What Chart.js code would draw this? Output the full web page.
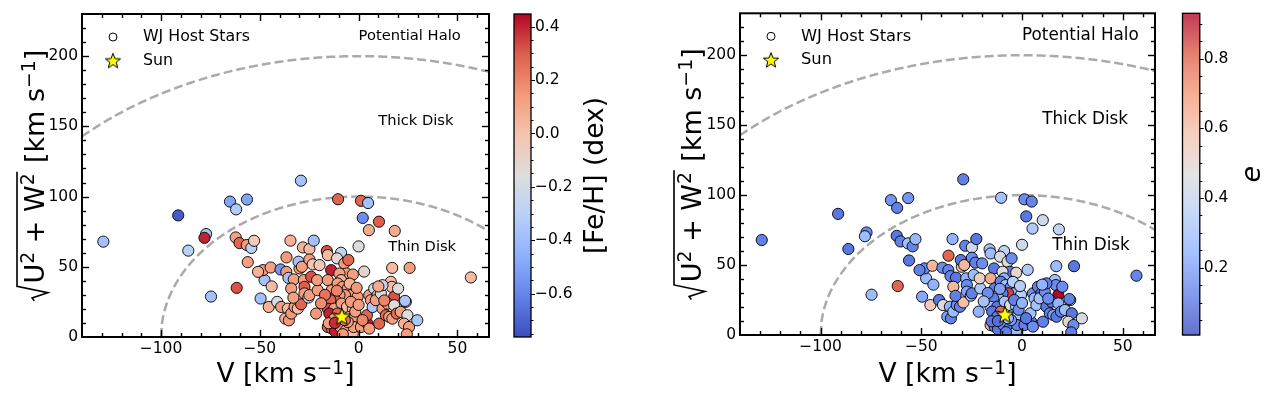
<!DOCTYPE html>
<html>
<head>
<meta charset="utf-8">
<script src="https://cdn.jsdelivr.net/npm/chart.js@4.4.1/dist/chart.umd.min.js"></script>
<style>
  html, body { margin: 0; padding: 0; background: #fff; }
  #wrap { position: relative; width: 1273px; height: 395px; }
  canvas { position: absolute; top: 0; }
</style>
</head>
<body>
<div id="wrap">
  <canvas id="leftChart" width="636" height="395" style="left:0"></canvas>
  <canvas id="rightChart" width="637" height="395" style="left:636px"></canvas>
</div>
<script>
// V velocity and sqrt(U^2+W^2) of each WJ host star (km/s)
const vVel = [
  -129.2, -91.3, -65.1, -62.0, -56.5, -29.2, -10.4, 1.2, 4.8, 2.1,
  10.3, 5.2, 18.3, -77.2, -78.0, -86.2, -74.7, -61.7, 56.8, 0.0,
  2.8, 17.0, 25.8, -62.2, -60.3, -56.6, -54.3, -52.9, -56.1,
  -49.6, -47.6, -48.4, -50.9, -44.5, -45.5, -41.2, -39.5, -36.6, -36.5,
  -34.5, -35.5, -32.8, -34.1, -39.2, -35.8, -37.1, -35.3, -34.1, -32.4,
  -30.8, -29.9, -30.4, -28.7, -28.2, -27.7, -27.4, -27.4, -29.1, -24.9,
  -22.7, -24.9, -24.0, -23.2, -25.4, -24.9, -20.7, -21.0, -21.5, -19.8,
  -16.1, -15.6, -13.9, -15.6, -13.6, -13.1, -8.9, -10.9, -7.2, -5.2,
  -6.1, -2.9, -9.7, -8.9, -10.6, -8.1, -5.5, -3.9, -0.5, -6.9,
  -9.7, -11.4, -14.3, -15.6, -12.3, -8.6, -5.9, -2.9, -3.9, -14.8,
  -10.6, -4.7, -2.2, -15.6, -13.6, -11.9, -9.2, -6.4, -3.0, -2.5,
  -5.5, -12.3, -4.5, -15.1, -1.7, 0.0,
  1.2, 4.5, 5.4, 4.2, 5.4, 6.2, 7.9, 7.1, 9.6, 8.7,
  11.3, 10.4, 12.1, 13.8, 15.5, 17.1, 16.3, 16.8, 18.0, 14.6,
  18.0, 20.0, 19.3, 21.3, 23.9, 23.5, 24.7, 23.0, 25.5, 24.4,
  29.7, 12.1,
  -11.0, -7.0, -12.0, -1.0, -17.0, -8.0, 2.0, -19.0, 10.0, 13.0,
  -33.0, -44.0
];
const uwVel = [
  67.9, 86.6, 96.4, 90.9, 97.9, 111.3, 98.1, 97.0, 95.4, 84.8,
  82.1, 76.1, 75.5, 73.3, 70.6, 61.5, 28.8, 35.0, 42.4, 64.5,
  46.6, 49.2, 49.2, 70.9, 66.9, 65.5, 63.4, 68.5, 53.3,
  27.4, 40.5, 47.6, 46.4, 49.5, 21.4, 25.0, 48.1, 46.4, 56.7,
  68.6, 42.1, 41.0, 34.5, 21.4, 20.2, 13.1, 11.9, 16.7, 21.4,
  20.2, 48.8, 53.6, 50.0, 63.8, 40.5, 35.7, 31.0, 23.3, 62.6,
  68.6, 55.2, 42.9, 51.7, 28.1, 29.8, 33.3, 40.5, 16.7, 51.2,
  61.2, 58.3, 47.6, 40.5, 33.3, 27.4, 60.0, 56.0, 52.4, 54.8,
  45.2, 44.5, 45.2, 40.5, 38.1, 35.7, 34.5, 29.8, 28.6, 29.8,
  29.8, 25.7, 26.2, 20.2, 20.2, 23.8, 21.4, 20.2, 25.0, 16.7,
  16.7, 14.3, 14.3, 7.1, 6.0, 4.0, 7.1, 4.8, 2.4, 7.1,
  10.7, 13.1, 38.0, 9.8, 18.1, 22.9,
  7.1, 9.5, 6.0, 15.5, 29.8, 26.2, 34.5, 21.4, 29.8, 26.2,
  31.0, 9.5, 20.2, 15.5, 14.3, 13.1, 39.3, 35.7, 28.6, 23.8,
  22.6, 34.5, 16.7, 17.9, 25.0, 25.7, 15.5, 9.5, 7.1, 1.9,
  11.9, 36.9,
  33.0, 12.0, 10.0, 35.0, 30.0, 2.0, 12.0, 24.0, 36.0, 26.0,
  28.0, 36.0
];
// metallicity [Fe/H] (dex)
const feh = [
  -0.38, -0.72, -0.50, -0.33, -0.50, -0.37, 0.28, 0.28, -0.38, -0.58,
  0.30, 0.08, 0.08, -0.35, 0.40, -0.30, -0.38, 0.32, 0.03, -0.15,
  -0.10, 0.03, 0.13, 0.12, 0.28, 0.14, -0.30, -0.05, 0.12,
  -0.38, -0.38, 0.15, 0.06, 0.12, 0.06, -0.18, -0.55, 0.15, 0.15,
  0.06, -0.38, 0.13, 0.13, 0.13, 0.03, 0.06, 0.15, 0.15, 0.13,
  0.03, 0.15, -0.38, 0.13, 0.06, 0.13, 0.30, 0.13, 0.28, 0.03,
  -0.38, 0.13, 0.32, -0.02, -0.25, 0.13, 0.13, 0.13, 0.15, -0.03,
  0.32, 0.03, 0.40, 0.13, 0.13, 0.28, -0.25, -0.12, 0.13, 0.28,
  0.13, 0.13, 0.13, 0.06, 0.13, 0.13, 0.13, 0.13, 0.13, 0.15,
  0.13, 0.28, 0.28, 0.32, 0.13, 0.13, 0.03, -0.05, 0.13, 0.40,
  0.28, 0.13, 0.13, 0.28, 0.28, 0.40, 0.13, 0.13, 0.03, 0.13,
  0.13, 0.13, 0.06, 0.13, 0.13, 0.13,
  0.13, 0.40, 0.13, 0.28, 0.13, 0.13, -0.22, -0.35, 0.06, 0.13,
  -0.15, 0.28, 0.13, 0.28, 0.13, 0.13, 0.03, 0.03, 0.32, 0.13,
  -0.15, -0.15, 0.28, 0.13, -0.02, -0.35, -0.15, 0.06, 0.13, 0.13,
  -0.35, -0.25,
  0.20, 0.25, 0.38, 0.15, 0.25, 0.15, 0.20, 0.18, 0.08, 0.20,
  0.12, 0.03
];
// orbital eccentricity e
const ecc = [
  0.12, 0.10, 0.17, 0.12, 0.17, 0.12, 0.30, 0.15, 0.13, 0.10,
  0.42, 0.33, 0.38, 0.14, 0.28, 0.10, 0.28, 0.80, 0.13, 0.42,
  0.33, 0.28, 0.10, 0.10, 0.12, 0.30, 0.13, 0.27, 0.10,
  0.22, 0.28, 0.15, 0.12, 0.62, 0.55, 0.10, 0.15, 0.13, 0.80,
  0.25, 0.12, 0.10, 0.62, 0.48, 0.25, 0.20, 0.12, 0.28, 0.15,
  0.12, 0.60, 0.10, 0.62, 0.12, 0.25, 0.15, 0.20, 0.60, 0.42,
  0.10, 0.15, 0.28, 0.12, 0.30, 0.12, 0.32, 0.53, 0.25, 0.15,
  0.30, 0.28, 0.10, 0.65, 0.12, 0.50, 0.38, 0.45, 0.48, 0.15,
  0.10, 0.50, 0.48, 0.25, 0.12, 0.30, 0.15, 0.25, 0.35, 0.85,
  0.12, 0.30, 0.12, 0.28, 0.10, 0.30, 0.48, 0.38, 0.12, 0.10,
  0.80, 0.15, 0.30, 0.65, 0.12, 0.10, 0.15, 0.10, 0.28, 0.12,
  0.20, 0.12, 0.35, 0.10, 0.15, 0.25,
  0.12, 0.10, 0.15, 0.30, 0.15, 0.28, 0.12, 0.30, 0.10, 0.30,
  0.15, 0.12, 0.10, 0.12, 0.20, 0.10, 0.30, 0.15, 0.93, 0.12,
  0.25, 0.15, 0.12, 0.28, 0.35, 0.12, 0.10, 0.50, 0.15, 0.12,
  0.45, 0.12,
  0.20, 0.28, 0.08, 0.35, 0.15, 0.12, 0.10, 0.30, 0.25, 0.15,
  0.12, 0.25
];
const sunPos = [-8.5, 14.7];
const xTicks = [-100, -50, 0, 50];
const yTicks = [0, 50, 100, 150, 200];
const fehTicks = [-0.6, -0.4, -0.2, 0.0, 0.2, 0.4];
const eccTicks = [0.2, 0.4, 0.6, 0.8];
const diskRadii = [100, 200]; // thin / thick disk boundaries (km/s)

const FONT = '"DejaVu Sans"';
const minus = s => String(s).replace('-', '\u2212');

// matplotlib coolwarm
const cwStops = [[59,76,192],[98,130,234],[141,176,254],[184,208,249],[221,221,221],
                 [245,196,173],[244,154,123],[222,96,77],[180,4,38]];
function coolwarm(t) {
  t = Math.max(0, Math.min(1, t));
  const p = t * (cwStops.length - 1);
  const i = Math.min(Math.floor(p), cwStops.length - 2);
  const f = p - i;
  const c = cwStops[i].map((v, k) => Math.round(v + (cwStops[i + 1][k] - v) * f));
  return `rgb(${c[0]},${c[1]},${c[2]})`;
}

function starPath(ctx, cx, cy, ro, ri) {
  ctx.beginPath();
  for (let k = 0; k < 10; k++) {
    const r = k % 2 ? ri : ro;
    const a = -Math.PI / 2 + k * Math.PI / 5;
    const x = cx + r * Math.cos(a), y = cy + r * Math.sin(a);
    k ? ctx.lineTo(x, y) : ctx.moveTo(x, y);
  }
  ctx.closePath();
}
function makeStar(size) {
  const c = document.createElement('canvas');
  c.width = size; c.height = size;
  const g = c.getContext('2d');
  starPath(g, size / 2, size / 2 + 0.8, size / 2 - 1, (size / 2 - 1) * 0.42);
  g.fillStyle = '#ffff00'; g.fill();
  g.strokeStyle = '#000'; g.lineWidth = 1; g.stroke();
  return c;
}
const sunImg = makeStar(20);
const sunLegendImg = makeStar(18);

function circlePoints(r) {
  const pts = [];
  for (let v = -140; v <= 66; v += 0.5) {
    if (Math.abs(v) <= r) pts.push({ x: v, y: Math.sqrt(r * r - v * v) });
  }
  return pts;
}

// draw text pieces with superscripts
function richWidth(ctx, parts) {
  let w = 0;
  parts.forEach(p => { ctx.font = p.f; w += ctx.measureText(p.t).width; });
  return w;
}
function richDraw(ctx, parts, x, y) {
  parts.forEach(p => {
    ctx.font = p.f;
    ctx.fillText(p.t, x, y + (p.dy || 0));
    x += ctx.measureText(p.t).width;
  });
  return x;
}

function drawYLabel(ctx, s) {
  const big = s + 'px ' + FONT, small = (s * 0.7) + 'px ' + FONT;
  const inner = [
    { t: 'U', f: big }, { t: '2', f: small, dy: -0.38 * s },
    { t: ' + ', f: big }, { t: 'W', f: big }, { t: '2', f: small, dy: -0.38 * s }
  ];
  const tail = [
    { t: ' [km s', f: big }, { t: '\u22121', f: small, dy: -0.32 * s }, { t: ']', f: big }
  ];
  const radW = 0.66 * s;
  const w1 = richWidth(ctx, inner) + 0.06 * s, w2 = richWidth(ctx, tail);
  let x = -(radW + w1 + w2) / 2;
  ctx.textAlign = 'left'; ctx.textBaseline = 'alphabetic';
  ctx.beginPath();
  ctx.moveTo(x + 0.02 * s, -0.36 * s);
  ctx.lineTo(x + 0.13 * s, -0.44 * s);
  ctx.lineTo(x + 0.32 * s, 0.14 * s);
  ctx.lineTo(x + 0.56 * s, -1.0 * s);
  ctx.lineTo(x + radW + w1, -1.0 * s);
  ctx.lineWidth = 0.06 * s; ctx.lineJoin = 'miter';
  ctx.stroke();
  x = richDraw(ctx, inner, x + radW, 0) + 0.06 * s;
  richDraw(ctx, tail, x, 0);
}

function decorPlugin(p) {
  return {
    id: 'decor',
    afterDraw(chart) {
      const ctx = chart.ctx, a = chart.chartArea;
      const xs = chart.scales.x, ys = chart.scales.y;
      const line = (x1, y1, x2, y2) => { ctx.beginPath(); ctx.moveTo(x1, y1); ctx.lineTo(x2, y2); ctx.stroke(); };
      ctx.save();
      ctx.fillStyle = '#000'; ctx.strokeStyle = '#000';

      // inward ticks on all four sides
      ctx.lineWidth = 1.4;
      for (let v = -130; v <= 60; v += 10) {
        const L = xTicks.includes(v) ? 7 : 4;
        const x = Math.round(xs.getPixelForValue(v)) + 0.5;
        line(x, a.bottom, x, a.bottom - L);
        line(x, a.top, x, a.top + L);
      }
      for (let v = 10; v <= 220; v += 10) {
        const L = yTicks.includes(v) ? 7 : 4;
        const y = Math.round(ys.getPixelForValue(v)) + 0.5;
        line(a.left, y, a.left + L, y);
        line(a.right, y, a.right - L, y);
      }
      ctx.lineWidth = 2;
      ctx.strokeRect(a.left, a.top, a.right - a.left, a.bottom - a.top);

      // region names
      ctx.font = p.textSize + 'px ' + FONT;
      ctx.textAlign = 'left'; ctx.textBaseline = 'middle';
      ctx.fillText('Potential Halo', xs.getPixelForValue(0), ys.getPixelForValue(214));
      ctx.fillText('Thick Disk', xs.getPixelForValue(10), ys.getPixelForValue(154));
      ctx.fillText('Thin Disk', xs.getPixelForValue(15), ys.getPixelForValue(64));

      // legend
      const lx = a.left + 31;
      ctx.beginPath(); ctx.arc(lx, a.top + 23, 4, 0, Math.PI * 2);
      ctx.lineWidth = 1; ctx.stroke();
      ctx.drawImage(sunLegendImg, lx - 9, a.top + 46.5 - 9);
      ctx.font = p.legendSize + 'px ' + FONT;
      ctx.fillText('WJ Host Stars', a.left + 61, a.top + 23);
      ctx.fillText('Sun', a.left + 61, a.top + 46.5);

      // x label
      const big = '26.5px ' + FONT, small = (26.5 * 0.7) + 'px ' + FONT;
      const xl = [{ t: 'V [km s', f: big }, { t: '\u22121', f: small, dy: -8 }, { t: ']', f: big }];
      ctx.textBaseline = 'alphabetic';
      richDraw(ctx, xl, (a.left + a.right) / 2 - richWidth(ctx, xl) / 2, 381.5);

      // y label
      ctx.save();
      ctx.translate(p.yLabelX, (a.top + a.bottom) / 2);
      ctx.rotate(-Math.PI / 2);
      drawYLabel(ctx, 27);
      ctx.restore();

      // colorbar
      const cx0 = a.right + p.cbGap, cw = p.cbWidth;
      const cy = v => a.bottom - (v - p.vmin) / (p.vmax - p.vmin) * (a.bottom - a.top);
      for (let y = a.top; y < a.bottom; y++) {
        const t = (a.bottom - y - 0.5) / (a.bottom - a.top);
        ctx.fillStyle = coolwarm(t);
        ctx.fillRect(cx0, y, cw, 1);
      }
      ctx.strokeStyle = '#000'; ctx.lineWidth = 1.3;
      ctx.strokeRect(cx0, a.top, cw, a.bottom - a.top);
      ctx.lineWidth = 1;
      for (let k = Math.ceil(p.vmin / 0.05); k * 0.05 <= p.vmax; k++) {
        const v = k * 0.05;
        const major = k % 4 === 0;
        const y = Math.round(cy(v)) + 0.5;
        line(cx0 + cw, y, cx0 + cw + (major ? 4 : 2.5), y);
      }
      ctx.fillStyle = '#000';
      ctx.font = '15.5px ' + FONT; ctx.textAlign = 'left'; ctx.textBaseline = 'middle';
      p.cbTicks.forEach(v => ctx.fillText(minus(v.toFixed(1)), cx0 + cw + 4, cy(v)));

      ctx.save();
      ctx.translate(p.cbLabelX, (a.top + a.bottom) / 2);
      ctx.rotate(-Math.PI / 2);
      ctx.font = p.cbFont; ctx.textAlign = 'center'; ctx.textBaseline = 'alphabetic';
      ctx.fillText(p.cbLabel, 0, 0);
      ctx.restore();

      ctx.restore();
    }
  };
}

function makePanel(p) {
  const pts = vVel.map((v, i) => ({ x: v, y: uwVel[i] }));
  const colors = p.values.map(v => coolwarm((v - p.vmin) / (p.vmax - p.vmin)));
  const dash = { type: 'line', showLine: true, pointRadius: 0, borderColor: '#aaaaaa',
                 borderWidth: 2.5, borderDash: [9, 4], fill: false, tension: 0 };
  new Chart(document.getElementById(p.canvas), {
    type: 'scatter',
    data: {
      datasets: [
        { data: [{ x: sunPos[0], y: sunPos[1] }], pointStyle: sunImg, pointRadius: 10 },
        { data: pts, pointBackgroundColor: colors, pointBorderColor: '#000',
          pointBorderWidth: 0.9, pointRadius: 5.6, pointHoverRadius: 5.6 },
        Object.assign({ data: circlePoints(diskRadii[0]) }, dash),
        Object.assign({ data: circlePoints(diskRadii[1]) }, dash)
      ]
    },
    options: {
      responsive: false,
      animation: false,
      devicePixelRatio: 1,
      layout: { padding: { left: 0, right: p.padRight, top: p.padTop, bottom: 0 } },
      plugins: { legend: { display: false }, tooltip: { enabled: false } },
      scales: {
        x: {
          type: 'linear', min: -140, max: 66,
          grid: { display: false, drawTicks: false }, border: { display: false },
          afterBuildTicks: s => { s.ticks = xTicks.map(v => ({ value: v })); },
          afterFit: s => { s.height = p.xHeight; },
          ticks: { color: '#000', padding: 3, maxRotation: 0,
                   font: { family: 'DejaVu Sans', size: 15.5 }, callback: v => minus(v) }
        },
        y: {
          type: 'linear', min: 0, max: 230,
          grid: { display: false, drawTicks: false }, border: { display: false },
          afterBuildTicks: s => { s.ticks = yTicks.map(v => ({ value: v })); },
          afterFit: s => { s.width = p.yWidth; },
          ticks: { color: '#000', padding: 4,
                   font: { family: 'DejaVu Sans', size: 15.5 }, callback: v => minus(v) }
        }
      }
    },
    plugins: [decorPlugin(p)]
  });
}

makePanel({
  canvas: 'leftChart', values: feh, vmin: -0.763, vmax: 0.448, cbTicks: fehTicks,
  cbLabel: '[Fe/H] (dex)', cbFont: '26.5px ' + FONT, cbLabelX: 603,
  padRight: 147, padTop: 14, yWidth: 82, xHeight: 58, cbGap: 25, cbWidth: 17,
  textSize: 14.7, legendSize: 15.8, yLabelX: 44
});
makePanel({
  canvas: 'rightChart', values: ecc, vmin: 0.007, vmax: 0.93, cbTicks: eccTicks,
  cbLabel: 'e', cbFont: 'italic 27px ' + FONT, cbLabelX: 624,
  padRight: 118, padTop: 5, yWidth: 104, xHeight: 60, cbGap: 27.5, cbWidth: 17.3,
  textSize: 16.8, legendSize: 16.3, yLabelX: 65
});
</script>
</body>
</html>
